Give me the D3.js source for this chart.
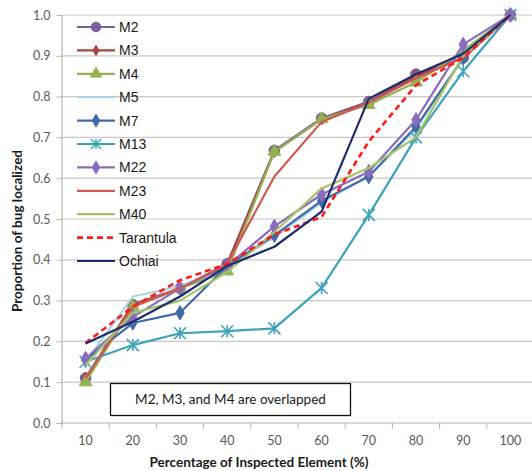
<!DOCTYPE html>
<html>
<head>
<meta charset="utf-8">
<script src="https://cdn.jsdelivr.net/npm/d3@7"></script>
<style>
  html, body { margin: 0; padding: 0; background: #fff; }
  svg { display: block; font-family: Lato, "Liberation Sans", sans-serif; }
</style>
</head>
<body>
<svg id="chart" width="532" height="471"></svg>
<script>
const categories = [10, 20, 30, 40, 50, 60, 70, 80, 90, 100];
const yTicks = [0.0, 0.1, 0.2, 0.3, 0.4, 0.5, 0.6, 0.7, 0.8, 0.9, 1.0];

const seriesNames = ["M2", "M3", "M4", "M5", "M7", "M13", "M22", "M23", "M40", "Tarantula", "Ochiai"];
const M2        = [0.11, 0.29, 0.33, 0.39, 0.668, 0.747, 0.788, 0.855, 0.895, 1.0];
const M3        = [0.11, 0.29, 0.33, 0.39, 0.665, 0.745, 0.785, 0.850, 0.895, 1.0];
const M4        = [0.10, 0.285, 0.33, 0.372, 0.665, 0.745, 0.780, 0.835, 0.912, 1.0];
const M5        = [0.15, 0.31, 0.335, 0.385, 0.455, 0.54, 0.605, 0.72, 0.895, 1.0];
const M7        = [0.155, 0.245, 0.27, 0.385, 0.46, 0.545, 0.604, 0.726, 0.895, 1.0];
const M13       = [0.15, 0.191, 0.22, 0.225, 0.232, 0.331, 0.51, 0.70, 0.862, 1.0];
const M22       = [0.158, 0.26, 0.33, 0.385, 0.482, 0.56, 0.616, 0.743, 0.928, 1.0];
const M23       = [0.11, 0.285, 0.33, 0.39, 0.604, 0.738, 0.785, 0.845, 0.895, 1.0];
const M40       = [0.142, 0.27, 0.30, 0.37, 0.468, 0.575, 0.625, 0.70, 0.90, 1.0];
const Tarantula = [0.196, 0.285, 0.35, 0.39, 0.462, 0.505, 0.69, 0.828, 0.895, 1.0];
const Ochiai    = [0.195, 0.248, 0.31, 0.385, 0.432, 0.518, 0.795, 0.855, 0.905, 1.0];
const seriesValues = [M2, M3, M4, M5, M7, M13, M22, M23, M40, Tarantula, Ochiai];

const xTitle = "Percentage of Inspected Element (%)";
const yTitle = "Proportion of bug localized";
const note = "M2, M3, and M4 are overlapped";

const styles = {
  M2:        { color: "#7b5e9e", marker: "circle",   size: 90, dash: null },
  M3:        { color: "#a8453f", marker: "diamond",  size: 40, dash: null },
  M4:        { color: "#93b352", marker: "triangle", size: 70, dash: null },
  M5:        { color: "#a9d6e4", marker: null,       size: 0,  dash: null },
  M7:        { color: "#3f6aa8", marker: "diamond",  size: 60, dash: null },
  M13:       { color: "#3ea3b9", marker: "star",     size: 6,  dash: null },
  M22:       { color: "#8a6cbd", marker: "diamond",  size: 60, dash: null },
  M23:       { color: "#cc5a55", marker: null,       size: 0,  dash: null },
  M40:       { color: "#a5c46a", marker: null,       size: 0,  dash: null },
  Tarantula: { color: "#ff1a1a", marker: null,       size: 0,  dash: "6,4" },
  Ochiai:    { color: "#1f2b6b", marker: null,       size: 0,  dash: null }
};

const svg = d3.select("#chart");
const plotLeft = 61.5, plotTop = 15, plotBottom = 423;

const x = d3.scaleBand().domain(categories).range([62, 534]).paddingInner(0).paddingOuter(0);
const cx = c => x(c) + x.bandwidth() / 2;
const y = d3.scaleLinear().domain([0, 1]).range([plotBottom, plotTop]);

// gridlines
svg.append("g").selectAll("line").data(yTicks.slice(1)).join("line")
  .attr("x1", plotLeft).attr("x2", 532)
  .attr("y1", d => y(d)).attr("y2", d => y(d))
  .attr("stroke", "#c8c8c8").attr("stroke-width", 1.2);

// y axis
const yAxis = d3.axisLeft(y).tickValues(yTicks).tickFormat(d3.format(".1f")).tickSize(5).tickPadding(6);
const gy = svg.append("g").attr("transform", `translate(${plotLeft},0)`).call(yAxis);
gy.select(".domain").attr("stroke", "#b4b4b4").attr("stroke-width", 1.2);
gy.selectAll(".tick line").attr("stroke", "#b4b4b4");
gy.selectAll(".tick text").attr("fill", "#595959").attr("font-size", 12.5).attr("font-family", "Lato, sans-serif");

// x axis
const xAxis = d3.axisBottom(x).tickSize(0).tickPadding(13);
const gx = svg.append("g").attr("transform", `translate(0,${plotBottom})`).call(xAxis);
gx.select(".domain").remove();
gx.append("line").attr("x1", plotLeft).attr("x2", 532).attr("y1", 0).attr("y2", 0)
  .attr("stroke", "#b4b4b4").attr("stroke-width", 1.2);
gx.selectAll(".tick text").attr("fill", "#595959").attr("font-size", 12.5).attr("font-family", "Lato, sans-serif");
gx.selectAll("line.edge").data(categories).join("line").attr("class", "edge")
  .attr("x1", d => x(d)).attr("x2", d => x(d)).attr("y1", 0).attr("y2", 6)
  .attr("stroke", "#b4b4b4").attr("stroke-width", 1);

// titles
svg.append("text").attr("x", 259).attr("y", 467).attr("text-anchor", "middle")
  .attr("font-weight", "bold").attr("font-size", 13.5).attr("fill", "#1a1a1a").text(xTitle);
svg.append("text").attr("transform", "translate(22,231) rotate(-90)").attr("text-anchor", "middle")
  .attr("font-weight", "bold").attr("font-size", 13.5).attr("fill", "#1a1a1a").text(yTitle);

function markerPath(type, size) {
  if (type === "circle") return d3.symbol(d3.symbolCircle, size)();
  if (type === "diamond") return d3.symbol(d3.symbolDiamond, size)();
  if (type === "triangle") return d3.symbol(d3.symbolTriangle, size)();
  if (type === "star") {
    const s = size;
    return `M${-s},${-s}L${s},${s}M${-s},${s}L${s},${-s}M0,${-s}L0,${s}`;
  }
  return null;
}

const line = d3.line().x((d, i) => cx(categories[i])).y(d => y(d));

seriesNames.forEach((name, si) => {
  const st = styles[name];
  const vals = seriesValues[si];
  const g = svg.append("g");
  g.append("path").datum(vals).attr("d", line)
    .attr("fill", "none").attr("stroke", st.color).attr("stroke-width", name === "Tarantula" ? 2.6 : 2.2)
    .attr("stroke-dasharray", st.dash).attr("stroke-linejoin", "round");
  if (st.marker) {
    g.selectAll("path.m").data(vals).join("path").attr("class", "m")
      .attr("transform", (d, i) => `translate(${cx(categories[i])},${y(d)})`)
      .attr("d", markerPath(st.marker, st.size))
      .attr("fill", st.marker === "star" ? "none" : st.color)
      .attr("stroke", st.color).attr("stroke-width", st.marker === "star" ? 1.6 : 1);
  }
});

// legend
const legX1 = 77, legX2 = 115, legTextX = 119, legY0 = 27, legStep = 23.4;
const leg = svg.append("g");
seriesNames.forEach((name, i) => {
  const st = styles[name];
  const yy = legY0 + i * legStep;
  leg.append("line").attr("x1", legX1).attr("x2", legX2).attr("y1", yy).attr("y2", yy)
    .attr("stroke", st.color).attr("stroke-width", name === "Tarantula" ? 2.6 : 2.2)
    .attr("stroke-dasharray", st.dash);
  if (st.marker) {
    leg.append("path").attr("transform", `translate(${(legX1 + legX2) / 2},${yy})`)
      .attr("d", markerPath(st.marker, st.marker === "star" ? 5 : st.size * 0.8))
      .attr("fill", st.marker === "star" ? "none" : st.color)
      .attr("stroke", st.color).attr("stroke-width", st.marker === "star" ? 1.4 : 1);
  }
  leg.append("text").attr("x", legTextX).attr("y", yy + 5).attr("font-size", 14)
    .attr("font-family", "'Liberation Sans', Arial, sans-serif")
    .attr("fill", "#1a1a1a").text(name);
});

// note box
svg.append("rect").attr("x", 110.5).attr("y", 383.5).attr("width", 240).attr("height", 32)
  .attr("fill", "#fff").attr("stroke", "#111").attr("stroke-width", 1.3);
svg.append("text").attr("x", 230.5).attr("y", 404).attr("text-anchor", "middle")
  .attr("font-size", 13.5).attr("fill", "#1a1a1a").text(note);
</script>
</body>
</html>
